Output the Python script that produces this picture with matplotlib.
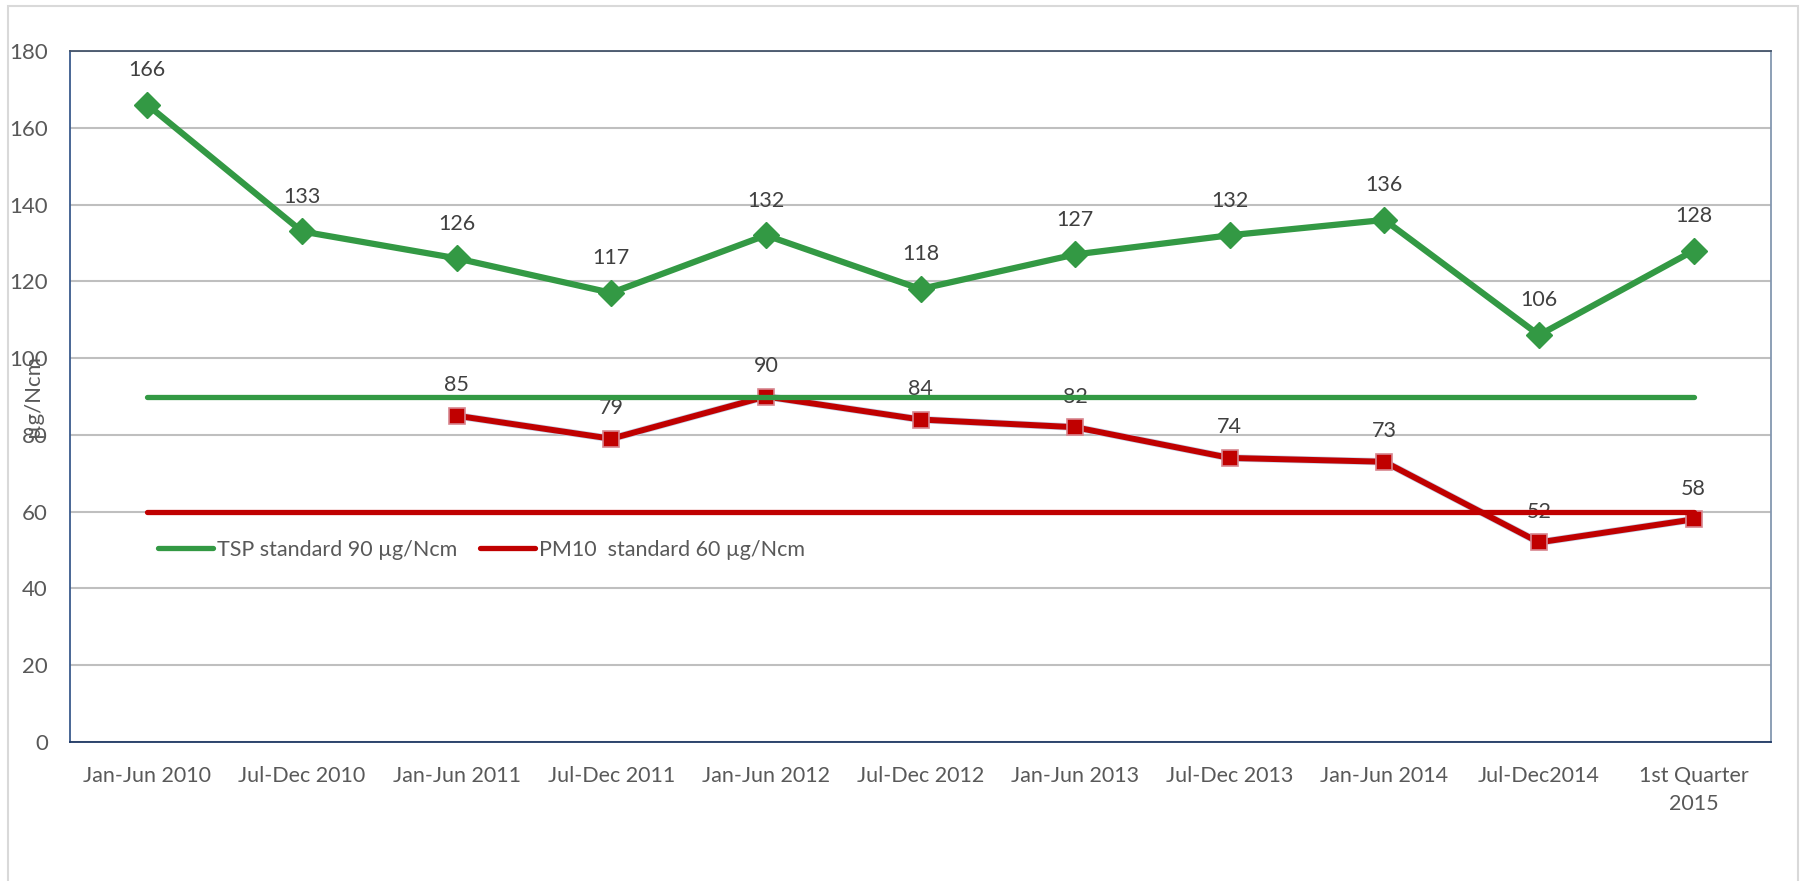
import matplotlib
matplotlib.use("Agg")
import matplotlib.pyplot as plt
import matplotlib.patheffects as pe
from matplotlib.patches import Rectangle

plt.rcParams['font.family'] = ['Lato', 'DejaVu Sans']

periods = ['Jan-Jun 2010', 'Jul-Dec 2010', 'Jan-Jun 2011', 'Jul-Dec 2011',
           'Jan-Jun 2012', 'Jul-Dec 2012', 'Jan-Jun 2013', 'Jul-Dec 2013',
           'Jan-Jun 2014', 'Jul-Dec2014', '1st Quarter\n2015']
tsp = [166, 133, 126, 117, 132, 118, 127, 132, 136, 106, 128]
pm10 = [None, None, 85, 79, 90, 84, 82, 74, 73, 52, 58]
tsp_standard = 90
pm10_standard = 60
y_ticks = [0, 20, 40, 60, 80, 100, 120, 140, 160, 180]

GREEN = '#339944'
RED = '#c00000'
TXT = '#595959'
FS = 15.5

W, H = 1803, 881
fig = plt.figure(figsize=(W / 100, H / 100), dpi=100)
ax = fig.add_axes([70 / W, 1 - 742 / H, 1701 / W, 691 / H])

x = list(range(len(periods)))

# outer chart frame (light gray)
fig.patches.append(Rectangle((8 / W, -0.05), 1790 / W, 1.05 - 6 / H,
                             transform=fig.transFigure, fill=False,
                             edgecolor='#d9d9d9', linewidth=1.5))

# TSP series
ax.plot(x, tsp, color=GREEN, lw=4.5, marker='D', markersize=13,
        markeredgecolor=GREEN, zorder=4, solid_joinstyle='miter')
for xi, v in zip(x, tsp):
    ax.annotate(str(v), (xi, v), xytext=(0, 25), textcoords='offset points',
                ha='center', va='center', fontsize=FS, color='#404040')

# PM10 series
px = [xi for xi, v in zip(x, pm10) if v is not None]
pv = [v for v in pm10 if v is not None]
ax.plot(px, pv, color=RED, lw=4.3, zorder=3,
        path_effects=[pe.Stroke(linewidth=5.3, foreground='#c5d2e8'), pe.Normal()])
ax.plot(px, pv, linestyle='none', marker='s', markersize=11, color=RED,
        markeredgecolor='#d7868f', markeredgewidth=1.2, zorder=3)
for xi, v in zip(px, pv):
    ax.annotate(str(v), (xi, v), xytext=(0, 22), textcoords='offset points',
                ha='center', va='center', fontsize=FS, color='#404040')

# standard lines
ax.plot([x[0], x[-1]], [tsp_standard] * 2, color=GREEN, lw=3.8,
        solid_capstyle='round', zorder=5, label='TSP standard 90 µg/Ncm')
ax.plot([x[0], x[-1]], [pm10_standard] * 2, color=RED, lw=3.8,
        solid_capstyle='round', zorder=5, label='PM10  standard 60 µg/Ncm')

ax.set_xlim(-0.5, len(periods) - 0.5)
ax.set_ylim(0, 180)
ax.set_yticks(y_ticks)
ax.set_xticks(x)
ax.set_xticklabels(periods, fontsize=FS, color=TXT, linespacing=1.5)
ax.tick_params(axis='x', length=0, pad=17)
ax.tick_params(axis='y', length=0, pad=16, labelsize=16, labelcolor=TXT)
ax.grid(axis='y', color='#bfbfbf', linewidth=1.5)
ax.set_axisbelow(True)

ax.spines['left'].set_color('#3a5a8c')
ax.spines['bottom'].set_color('#1f3864')
ax.spines['top'].set_color('#44546a')
ax.spines['right'].set_color('#8497b0')
for s in ax.spines.values():
    s.set_linewidth(1.3)

leg = ax.legend(loc='center left', bbox_to_anchor=(0.052, 0.278), ncol=2,
                frameon=False, fontsize=FS, handlelength=2.55,
                handletextpad=0.19, columnspacing=1.05, borderpad=0,
                borderaxespad=0)
for t in leg.get_texts():
    t.set_color(TXT)

fig.text(33 / W, 1 - 396 / H, 'µg/Ncm', rotation=90, ha='center',
         va='center', fontsize=16, color=TXT)

fig.savefig('out.png', dpi=100)
